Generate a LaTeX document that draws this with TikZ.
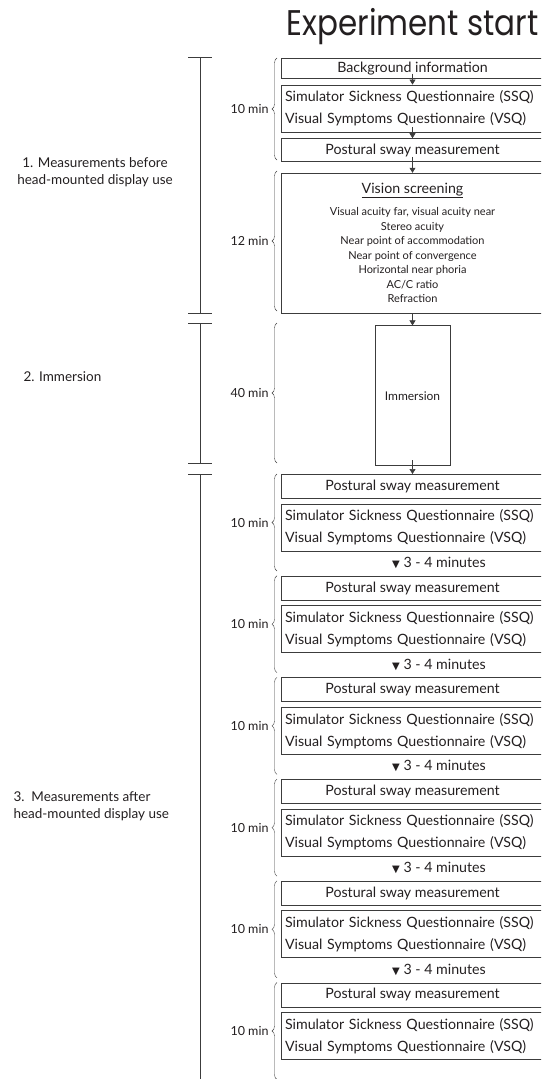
\documentclass[tikz,border=0pt]{standalone}
\usepackage{fontspec}
\setmainfont{Lato}
\newfontfamily\titlefont{Poppins}
\newfontfamily\symfont{DejaVu Sans}
\usetikzlibrary{arrows.meta, positioning, decorations.pathreplacing}
\definecolor{InkGray}{HTML}{231F20}
\definecolor{LineGray}{HTML}{3C3C3C}

\begin{document}
\begin{tikzpicture}[
    x=1pt, y=-1pt,
    every node/.style={text=InkGray},
    box/.style={rectangle, draw=LineGray, semithick, minimum width=263pt, inner xsep=0pt, align=center, font=\fontsize{14.2}{22}\selectfont},
    qbox/.style={box, align=left, text width=255pt, minimum height=47pt},
    arrow/.style={-{Triangle[length=5pt, width=6pt]}, semithick, LineGray},
    brace/.style={decorate, decoration={brace, amplitude=5pt}, thin, LineGray},
    dur/.style={font=\fontsize{12.5}{14}\selectfont, anchor=east},
    phase/.style={font=\fontsize{13.5}{17}\selectfont},
    tick/.style={semithick, LineGray}
]
\useasboundingbox (0,0) rectangle (541,1079);
\clip (0,0) rectangle (541,1079);

% Title
\node[anchor=base east, font=\titlefont\fontsize{31}{36}\selectfont] (title) at (542,35) {\scalebox{1}[1.15]{Experiment start}};

% Timeline with phase marks
\draw[tick] (188,57) -- (212,57) (200,57) -- (200,313) (188,313) -- (212,313);
\draw[tick] (188,323) -- (212,323) (200,323) -- (200,463) (188,463) -- (212,463);
\draw[tick] (188,474) -- (212,474) (200,474) -- (200,1079);

\node[phase, align=center] (ph1) at (95,172) {1. Measurements before\\head-mounted display use};
\node[phase, anchor=west] (ph2) at (20,377) {2. Immersion};
\node[phase, align=left, anchor=west] (ph3) at (10,806) {3.\ \ Measurements after\\head-mounted display use};

% Before HMD use
\node[box, minimum height=20pt, anchor=north] (bg) at (412.5,58) {Background information};
\node[qbox, below=6pt of bg] (q0) {Simulator Sickness Questionnaire (SSQ)\\Visual Symptoms Questionnaire (VSQ)};
\node[box, minimum height=23pt, below=6pt of q0] (ps0) {Postural sway measurement};
\node[box, minimum height=140pt, below=11pt of ps0, font=\fontsize{11}{14.5}\selectfont] (vis) {{\fontsize{14.2}{16}\selectfont\underline{Vision screening}}\\[8pt]
    Visual acuity far, visual acuity near\\
    Stereo acuity\\
    Near point of accommodation\\
    Near point of convergence\\
    Horizontal near phoria\\
    AC/C ratio\\
    Refraction};

\draw[arrow] ([yshift=5pt]bg.south) -- (q0.north);
\draw[arrow] ([yshift=5pt]q0.south) -- (ps0.north);
\draw[arrow] ([yshift=5pt]ps0.south) -- (vis.north);

\draw[brace] (277,160) -- (277,58) node[midway, dur, xshift=-5pt] (d1) {10 min};
\draw[brace] (277,311) -- (277,171) node[midway, dur, xshift=-5pt] (d2) {12 min};

% Immersion
\node[box, minimum width=75pt, minimum height=140pt, below=12pt of vis, font=\fontsize{12}{14}\selectfont] (imm) {Immersion};
\draw[arrow] (vis.south) -- (imm.north);
\draw[brace] (277,463) -- (277,323) node[midway, dur, xshift=-5pt] (d3) {40 min};

% After HMD use
\foreach \k [evaluate=\k as \T using 474+101.7*\k] in {0,...,5} {
    \node[box, minimum height=24pt, anchor=north] (p\k) at (412.5,\T) {Postural sway measurement};
    \node[qbox, below=5pt of p\k] (s\k) {Simulator Sickness Questionnaire (SSQ)\\Visual Symptoms Questionnaire (VSQ)};
    \draw[brace] (277,\T+97) -- (277,\T) node[midway, dur, xshift=-5pt] (m\k) {10 min};
    \ifnum\k<5
        \node[font=\fontsize{14.2}{16}\selectfont] (w\k) at (439,\T+89) {{\symfont\fontsize{10}{10}\selectfont ▼} 3 - 4 minutes};
    \fi
}
\draw[arrow] ([yshift=6pt]imm.south) -- (p0.north);
\end{tikzpicture}
\end{document}
